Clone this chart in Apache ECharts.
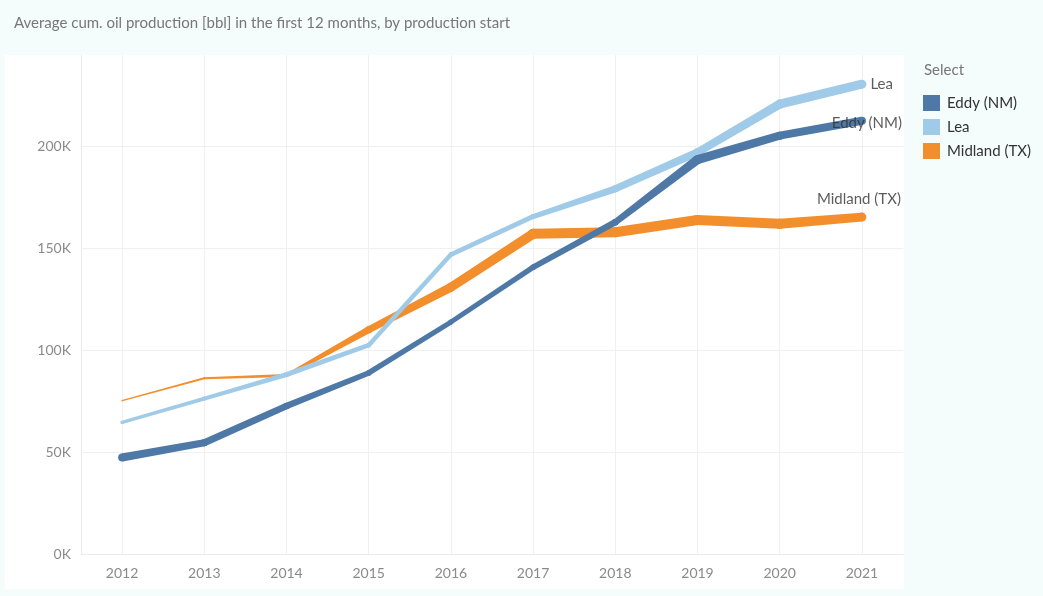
<!DOCTYPE html>
<html>
<head>
<meta charset="utf-8">
<script src="https://cdn.jsdelivr.net/npm/echarts@6/dist/echarts.min.js"></script>
<style>
  html, body { margin: 0; padding: 0; background: #f4fcfc; }
  #panel { position: absolute; left: 5px; top: 55px; width: 899px; height: 534px; background: #fff; }
  #main { position: absolute; left: 0; top: 0; width: 1043px; height: 596px; }
</style>
</head>
<body>
<div id="panel"></div>
<div id="main"></div>
<script>
// years on the x axis
const years = ['2012', '2013', '2014', '2015', '2016', '2017', '2018', '2019', '2020', '2021'];

// average cumulative oil production in the first 12 months (bbl)
const eddy = [47400, 54600, 72700, 88900, 113900, 140800, 162900, 193600, 205400, 212700];
const lea = [64600, 76300, 88100, 102500, 147000, 165700, 179300, 197200, 220900, 230700];
const midland = [75300, 86300, 87700, 110100, 131000, 157200, 158000, 164000, 162100, 165400];

// line thickness at each point (tableau size encoding), px
const eddyWidth = [8, 7, 6.5, 5.5, 5, 5.5, 6.5, 9, 8, 8];
const leaWidth = [3.5, 4, 5, 4.5, 4.5, 5, 7, 8, 9, 9];
const midlandWidth = [1.5, 2, 3, 7, 9, 10, 10, 10, 10, 9];

const colors = { eddy: '#4e79a7', lea: '#a0cbe8', midland: '#f28e2b' };
const font = 'Lato, "Open Sans", sans-serif';

function segments(values) {
    const out = [];
    for (let i = 0; i < values.length - 1; i++) {
        out.push([i, values[i], i + 1, values[i + 1]]);
    }
    return out;
}

// draws one tapered segment, width goes from widths[i] to widths[i+1]
function taper(widths, color) {
    return function (params, api) {
        const i = params.dataIndex;
        const p0 = api.coord([api.value(0), api.value(1)]);
        const p1 = api.coord([api.value(2), api.value(3)]);
        const w0 = widths[i] / 2;
        const w1 = widths[i + 1] / 2;
        const dx = p1[0] - p0[0];
        const dy = p1[1] - p0[1];
        const len = Math.sqrt(dx * dx + dy * dy) || 1;
        const nx = -dy / len;
        const ny = dx / len;
        const children = [
            {
                type: 'polygon',
                shape: {
                    points: [
                        [p0[0] + nx * w0, p0[1] + ny * w0],
                        [p1[0] + nx * w1, p1[1] + ny * w1],
                        [p1[0] - nx * w1, p1[1] - ny * w1],
                        [p0[0] - nx * w0, p0[1] - ny * w0]
                    ]
                },
                style: { fill: color }
            },
            { type: 'circle', shape: { cx: p0[0], cy: p0[1], r: w0 }, style: { fill: color } },
            { type: 'circle', shape: { cx: p1[0], cy: p1[1], r: w1 }, style: { fill: color } }
        ];
        return { type: 'group', children: children };
    };
}

function lineSeries(name, values, widths, color) {
    return {
        name: name,
        type: 'custom',
        data: segments(values),
        encode: { x: [0, 2], y: [1, 3] },
        renderItem: taper(widths, color),
        itemStyle: { color: color },
        clip: true
    };
}

function endLabel(name, values, position, offset, text) {
    const last = values.length - 1;
    return {
        name: name,
        type: 'scatter',
        data: [[last, values[last]]],
        symbolSize: 1,
        itemStyle: { color: 'transparent' },
        silent: true,
        z: 5,
        label: {
            show: true,
            position: position,
            distance: 8,
            offset: offset,
            formatter: text,
            color: '#333',
            fontFamily: font,
            fontSize: 15
        }
    };
}

const chart = echarts.init(document.getElementById('main'), null, { renderer: 'canvas' });

chart.setOption({
    backgroundColor: 'transparent',
    animation: false,
    title: [
        {
            text: 'Average cum. oil production [bbl] in the first 12 months, by production start',
            left: 9, top: 11,
            textStyle: { color: '#777', fontSize: 15, fontWeight: 'normal', fontFamily: font }
        },
        {
            text: 'Select',
            left: 919, top: 58,
            textStyle: { color: '#777', fontSize: 15, fontWeight: 'normal', fontFamily: font }
        }
    ],
    legend: {
        orient: 'vertical',
        left: 923, top: 95,
        padding: 0,
        icon: 'rect',
        itemWidth: 17, itemHeight: 16,
        itemGap: 8,
        data: ['Eddy (NM)', 'Lea', 'Midland (TX)'],
        textStyle: { color: '#333', fontSize: 15, fontFamily: font, padding: [0, 0, 0, 2] },
        selectedMode: false
    },
    grid: { left: 81, right: 140, top: 55, bottom: 42 },
    xAxis: {
        type: 'category',
        data: years,
        boundaryGap: true,
        axisLine: { lineStyle: { color: '#ececec' } },
        axisTick: { show: false, alignWithLabel: true },
        splitLine: { show: true, alignWithLabel: true, lineStyle: { color: '#f0f0f0' } },
        axisLabel: { color: '#8a8a8a', fontSize: 14, fontFamily: font, margin: 12 }
    },
    yAxis: {
        type: 'value',
        min: 0, max: 245000, interval: 50000,
        axisLine: { show: true, lineStyle: { color: '#ececec' } },
        axisTick: { show: false },
        splitLine: { show: true, showMaxLine: false, lineStyle: { color: '#f0f0f0' } },
        axisLabel: {
            color: '#8a8a8a', fontSize: 14, fontFamily: font, margin: 10,
            showMaxLabel: false,
            formatter: v => (v / 1000) + 'K'
        }
    },
    series: [
        lineSeries('Midland (TX)', midland, midlandWidth, colors.midland),
        lineSeries('Lea', lea, leaWidth, colors.lea),
        lineSeries('Eddy (NM)', eddy, eddyWidth, colors.eddy),
        endLabel('lbl-lea', lea, 'right', [0, 0], 'Lea'),
        endLabel('lbl-eddy', eddy, 'inside', [5, 2], 'Eddy (NM)'),
        endLabel('lbl-midland', midland, 'inside', [-3, -18], 'Midland (TX)')
    ]
});
</script>
</body>
</html>
